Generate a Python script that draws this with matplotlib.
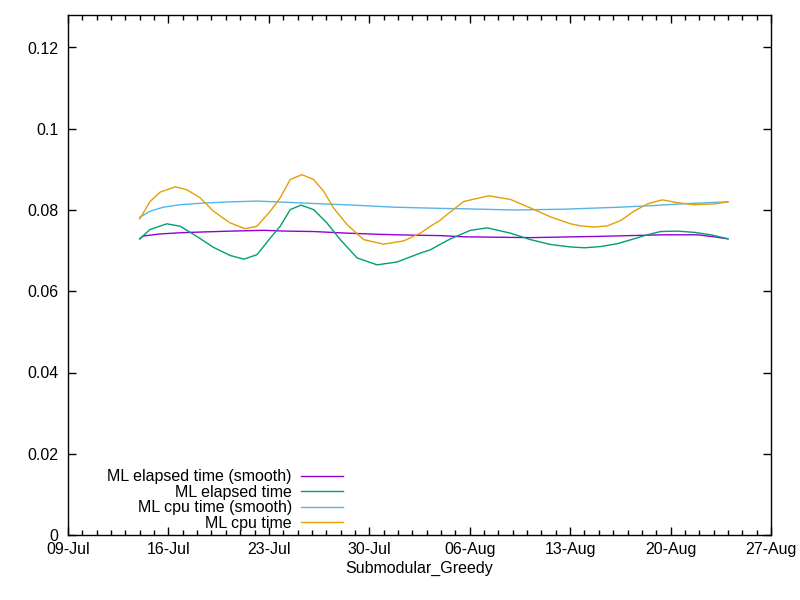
import datetime as dt
import matplotlib
matplotlib.use('Agg')
import matplotlib.pyplot as plt
import matplotlib.dates as mdates
from matplotlib.ticker import MultipleLocator

# days counted from 09-Jul
start = dt.datetime(2018, 7, 9)

cpu_days = [5, 5.72, 6.42, 7.47, 8.28, 9.21, 10.14, 11.31, 12.35, 13.17, 14.10, 14.79,
            15.49, 16.31, 17.12, 17.82, 18.51, 19.45, 20.61, 22.00, 23.40, 24.56, 25.26,
            25.91, 26.43, 27.59, 29.33, 30.84, 32.24, 33.64, 35.03, 35.73, 36.66, 37.59,
            38.52, 39.45, 40.38, 41.43, 42.48, 43.64, 45.03, 46]
cpu_vals = [0.0778, 0.0821, 0.0844, 0.0857, 0.0850, 0.0830, 0.0797, 0.0768, 0.0754, 0.0760,
            0.0797, 0.0830, 0.0875, 0.0887, 0.0875, 0.0846, 0.0805, 0.0764, 0.0727, 0.0716,
            0.0724, 0.0743, 0.0760, 0.0774, 0.0789, 0.0821, 0.0835, 0.0826, 0.0805, 0.0783,
            0.0766, 0.0761, 0.0758, 0.0761, 0.0774, 0.0797, 0.0815, 0.0825, 0.0818, 0.0813,
            0.0815, 0.0820]

elapsed_days = [5, 5.72, 6.89, 7.82, 8.98, 10.14, 11.31, 12.26, 13.17, 14.10, 14.79, 15.49,
                16.24, 17.12, 18.05, 18.98, 20.15, 21.54, 22.94, 24.56, 25.26, 25.91, 26.66,
                28.05, 29.22, 30.84, 32.24, 33.64, 35.03, 36.0, 37.12, 38.28, 39.45, 40.38,
                41.31, 42.48, 43.64, 44.80, 46]
elapsed_vals = [0.0729, 0.0752, 0.0766, 0.0760, 0.0735, 0.0708, 0.0688, 0.0679, 0.0690,
                0.0731, 0.0760, 0.0801, 0.0812, 0.0801, 0.0768, 0.0727, 0.0682, 0.0665,
                0.0672, 0.0694, 0.0702, 0.0715, 0.0729, 0.0750, 0.0756, 0.0743, 0.0727,
                0.0715, 0.0709, 0.0707, 0.0710, 0.0717, 0.0729, 0.0739, 0.0747, 0.0748,
                0.0745, 0.0739, 0.0729]

cpu_smooth_days = [5, 5.72, 6.65, 7.82, 9.44, 11.31, 13.17, 14.56, 17.12, 19.91, 22.70,
                   25.91, 27.59, 31.08, 34.57, 38.52, 40.85, 42.71, 44.57, 46]
cpu_smooth_vals = [0.0782, 0.0797, 0.0807, 0.0813, 0.0817, 0.0820, 0.0822, 0.0820, 0.0816,
                   0.0812, 0.0807, 0.0804, 0.0803, 0.0800, 0.0802, 0.0807, 0.0811, 0.0815,
                   0.0818, 0.0820]

elapsed_smooth_days = [5, 5.25, 6.42, 7.82, 9.44, 11.31, 13.63, 15.26, 17.12, 19.45, 21.77,
                       24.10, 25.91, 27.59, 32.24, 35.27, 36.90, 39.21, 41.54, 43.87, 45.03, 46]
elapsed_smooth_vals = [0.0729, 0.0736, 0.0741, 0.0744, 0.0746, 0.0748, 0.0750, 0.0748,
                       0.0747, 0.0743, 0.0740, 0.0738, 0.0737, 0.0734, 0.0732, 0.0734,
                       0.0735, 0.0737, 0.0739, 0.0739, 0.0734, 0.0729]

tick_days = [0, 7, 14, 21, 28, 35, 42, 49]


def to_dates(days):
    return [start + dt.timedelta(days=d) for d in days]


plt.rcParams['font.family'] = ['Liberation Sans', 'DejaVu Sans']
fs = 11.5

fig = plt.figure(figsize=(8, 6), dpi=100)
ax = fig.add_axes([68 / 800, 65 / 600, 703 / 800, 520 / 600])

ax.plot(to_dates(elapsed_smooth_days), elapsed_smooth_vals, color='#9400d3', lw=1,
        label='ML elapsed time (smooth)')
ax.plot(to_dates(elapsed_days), elapsed_vals, color='#009e73', lw=1, label='ML elapsed time')
ax.plot(to_dates(cpu_smooth_days), cpu_smooth_vals, color='#56b4e9', lw=1,
        label='ML cpu time (smooth)')
ax.plot(to_dates(cpu_days), cpu_vals, color='#e69f00', lw=1, label='ML cpu time')

ax.set_xlim(start, start + dt.timedelta(days=49))
ax.set_ylim(0, 0.128)
ax.set_xticks(to_dates(tick_days))
ax.xaxis.set_minor_locator(mdates.DayLocator())
ax.xaxis.set_major_formatter(mdates.DateFormatter('%d-%b'))
ax.yaxis.set_major_locator(MultipleLocator(0.02))
ax.yaxis.set_major_formatter(plt.FuncFormatter(lambda v, p: f'{v:g}'))

ax.tick_params(which='both', direction='in', top=True, right=True, labelsize=fs,
               width=1, colors='black')
ax.tick_params(which='major', length=6, pad=5)
ax.tick_params(axis='y', which='major', pad=7)
ax.tick_params(which='minor', length=3.5)
ax.tick_params(axis='y', which='minor', left=False, right=False)
for s in ax.spines.values():
    s.set_linewidth(1)

ax.set_xlabel('Submodular_Greedy', fontsize=fs, labelpad=3)

leg = ax.legend(loc='lower right', bbox_to_anchor=(0.391, 0.008), frameon=False,
                fontsize=fs, markerfirst=False, handlelength=2.6, handletextpad=0.6,
                labelspacing=0.03, borderaxespad=0, borderpad=0)
for t in leg.get_texts():
    t.set_ha('right')
leg._legend_box.align = 'right'

fig.savefig('out.png', dpi=100)
